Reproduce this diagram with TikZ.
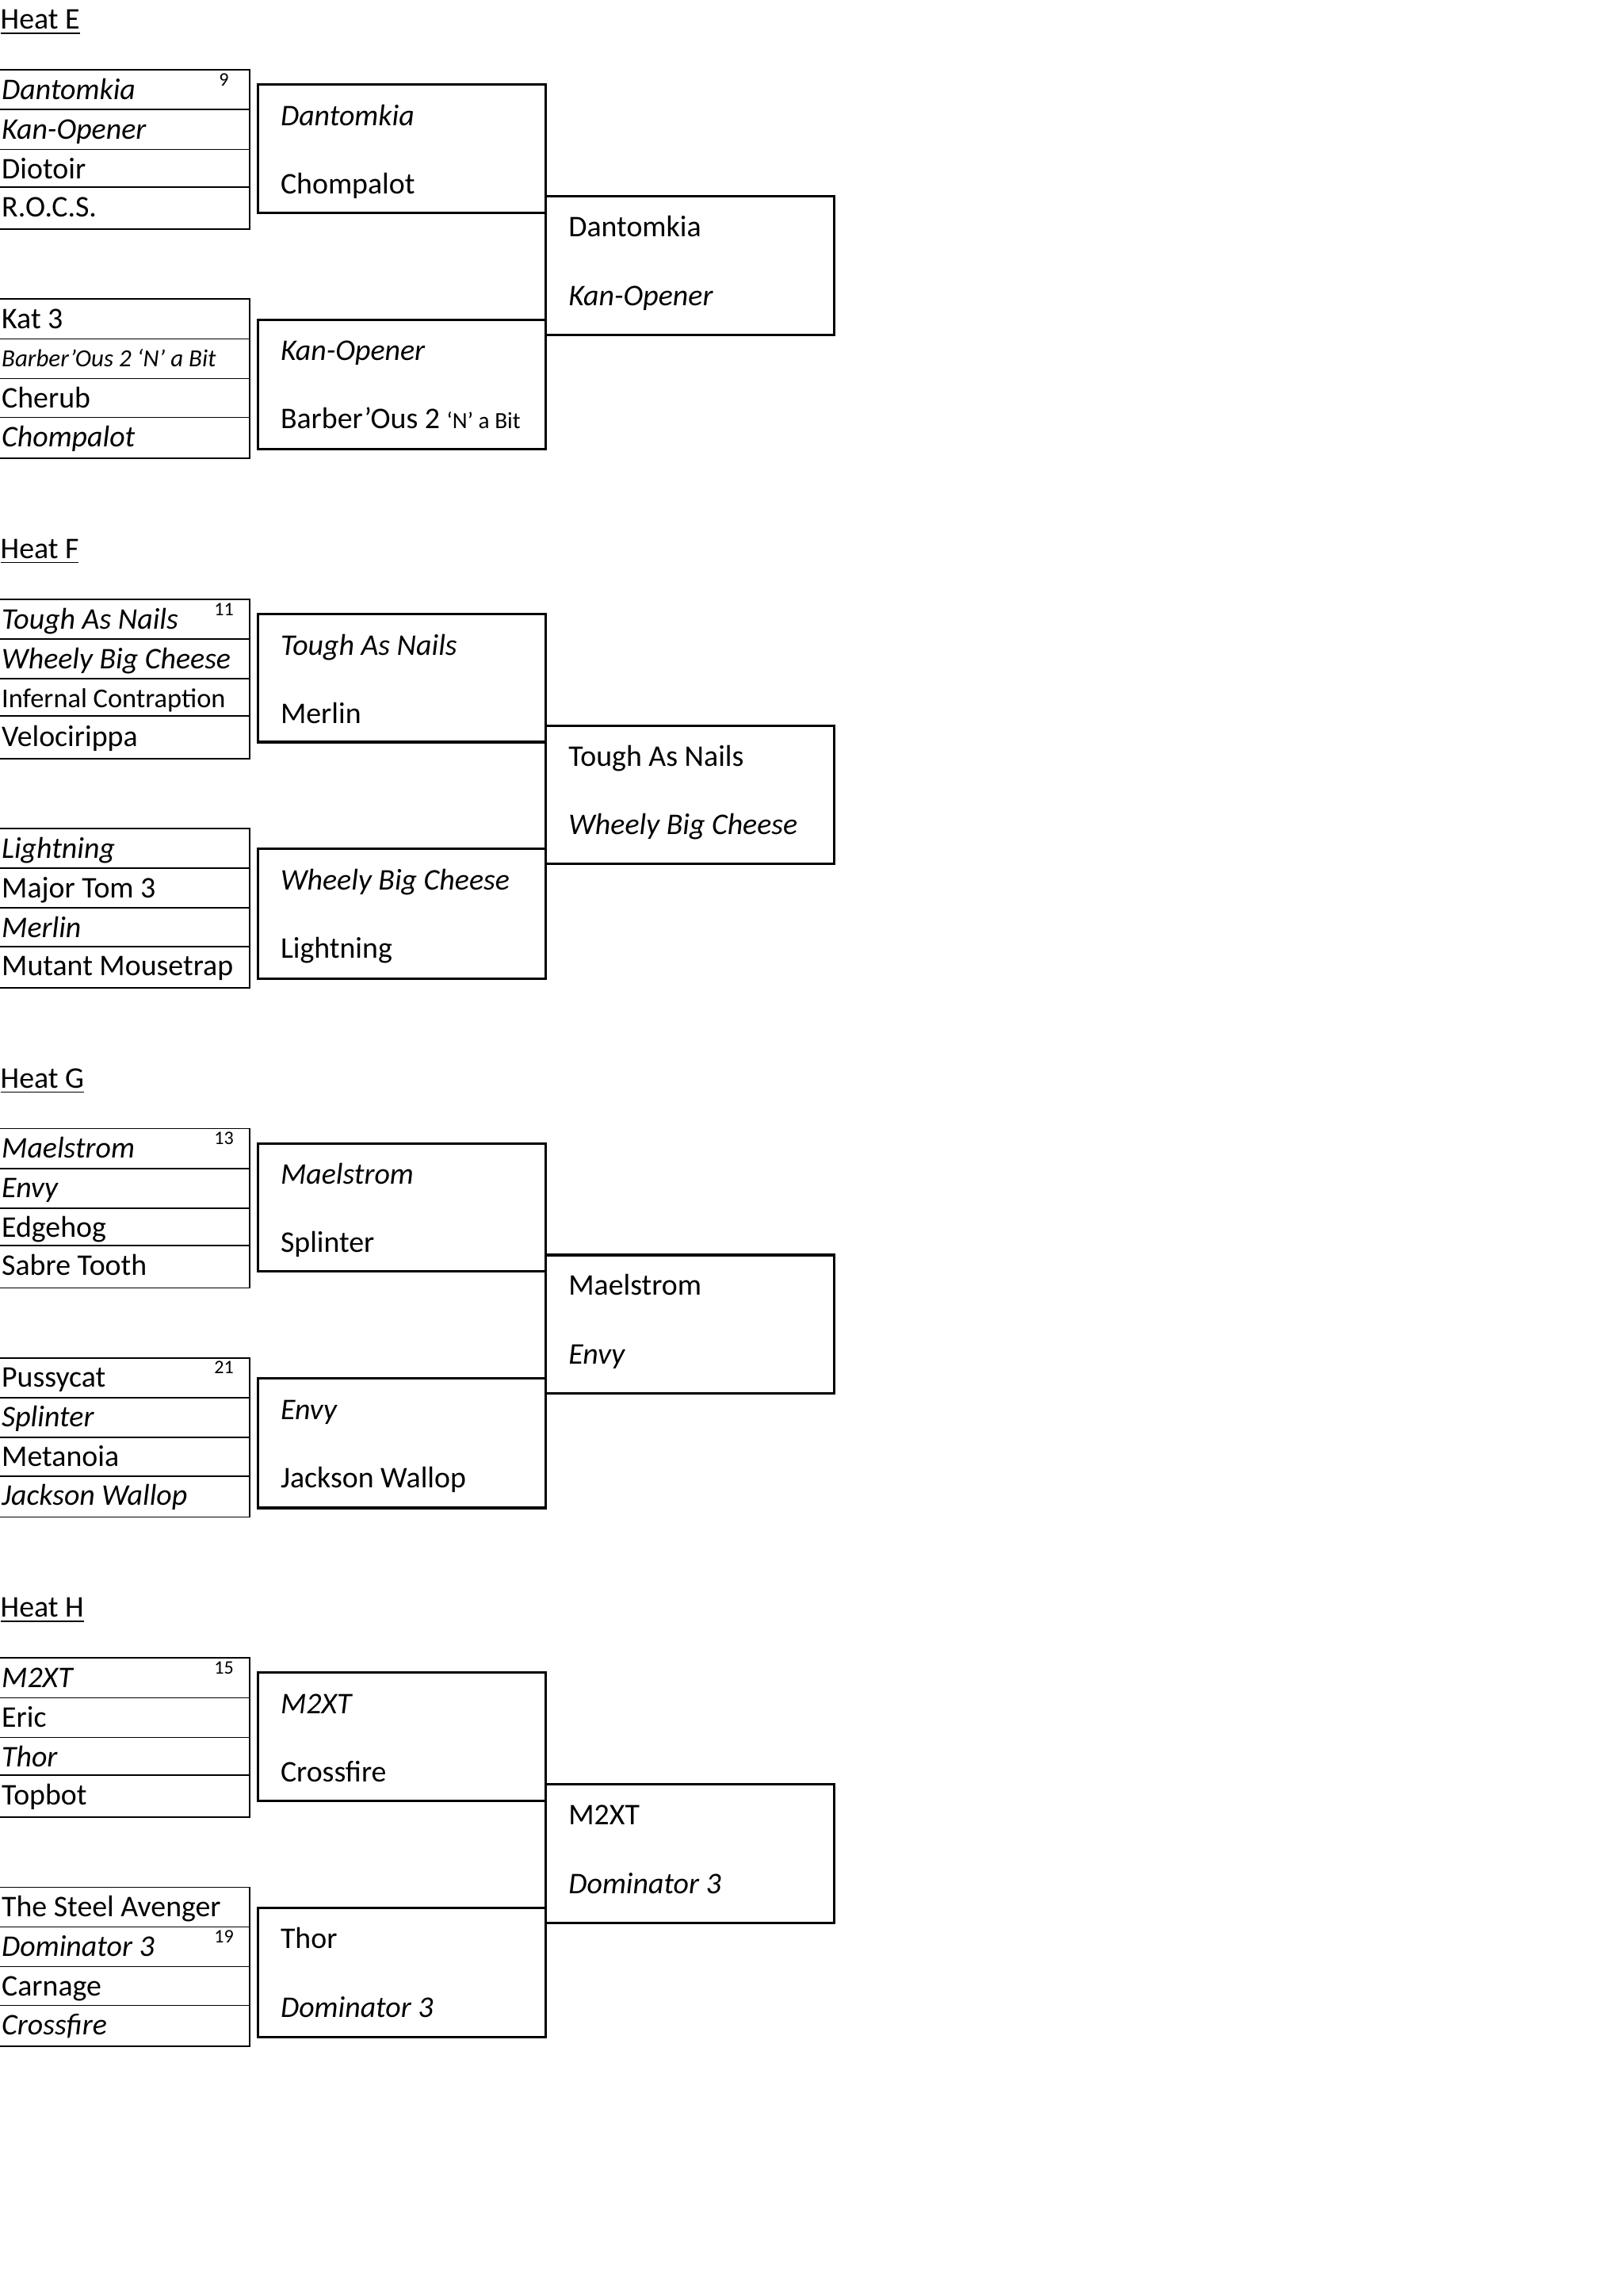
\documentclass[tikz,border=0pt]{standalone}
\usepackage{fontspec}
\setmainfont{Carlito}
\tikzset{
  entry/.style={anchor=base west, inner sep=0pt, font=\fontsize{11}{13}\selectfont},
  ientry/.style={anchor=base west, inner sep=0pt, font=\fontsize{11}{13}\selectfont\itshape},
  seednum/.style={anchor=base, inner sep=0pt, font=\fontsize{7}{8}\selectfont},
  heatlabel/.style={anchor=base west, inner sep=0pt, font=\fontsize{11}{13}\selectfont},
  listline/.style={line width=0.5pt},
  roundbox/.style={line width=0.9pt},
}
\begin{document}
\begin{tikzpicture}[x=0.5368pt,y=-0.5368pt]
\useasboundingbox (0,0) rectangle (1109,1568);
% frames are the same in every heat
\foreach \h in {0,361.5,723,1084.5}{
\begin{scope}[shift={(0,\h)}]
\draw[listline] (0,47.8) -- (170.6,47.8) -- (170.6,156.5) -- (0,156.5); %round 1 top
\draw[listline] (0,74.9) -- (170.6,74.9);
\draw[listline] (0,102) -- (170.6,102);
\draw[listline] (0,127.6) -- (170.6,127.6);
\draw[listline] (0,204.3) -- (170.6,204.3) -- (170.6,313) -- (0,313); %round 1 bottom
\draw[listline] (0,231.5) -- (170.6,231.5);
\draw[listline] (0,258.5) -- (170.6,258.5);
\draw[listline] (0,285) -- (170.6,285);
\draw[roundbox] (176.4,57.8) rectangle (372.7,145.3); %semi top
\draw[roundbox] (176.4,218.3) rectangle (372.7,306.8); %semi bottom
\draw[roundbox] (372.7,134.1) rectangle (569.8,228.6); %final
\end{scope}
}

% Heat E
\node[heatlabel] (heatE) at (0,19.9) {\underline{Heat E}};
\node[ientry] (e11) at (0.8,68) {Dantomkia};
\node[seednum] (e11s) at (153,58.8) {9};
\node[ientry] (e12) at (0.8,95) {Kan-Opener};
\node[entry] (e13) at (0.8,122) {Diotoir};
\node[entry] (e14) at (0.8,148) {R.O.C.S.};
\node[entry] (e21) at (0.8,224.5) {Kat 3};
\node[ientry, font=\fontsize{9}{11}\selectfont\itshape] (e22) at (0.8,250.5) {Barber’Ous 2 ‘N’ a Bit};
\node[entry] (e23) at (0.8,278.5) {Cherub};
\node[ientry] (e24) at (0.8,305) {Chompalot};
\node[ientry] (es1) at (191.3,85.8) {Dantomkia};
\node[entry] (es2) at (191.3,132.4) {Chompalot};
\node[ientry] (es3) at (191.3,246.3) {Kan-Opener};
\node[entry] (es4) at (191.3,292.9) {Barber’Ous 2 {\fontsize{8.5}{10}\selectfont ‘N’ a Bit}};
\node[entry] (ef1) at (388,161.6) {Dantomkia};
\node[ientry] (ef2) at (388,208.6) {Kan-Opener};

% Heat F
\begin{scope}[shift={(0,361.5)}]
\node[heatlabel] (heatF) at (0,19.9) {\underline{Heat F}};
\node[ientry] (f11) at (0.8,68) {Tough As Nails};
\node[seednum] (f11s) at (153,58.8) {11};
\node[ientry] (f12) at (0.8,95) {Wheely Big Cheese};
\node[entry, font=\fontsize{10}{12}\selectfont] (f13) at (0.8,121.5) {Infernal Contraption};
\node[entry] (f14) at (0.8,148) {Velocirippa};
\node[ientry] (f21) at (0.8,224.5) {Lightning};
\node[entry] (f22) at (0.8,251.5) {Major Tom 3};
\node[ientry] (f23) at (0.8,278.5) {Merlin};
\node[entry] (f24) at (0.8,305) {Mutant Mousetrap};
\node[ientry] (fs1) at (191.3,85.8) {Tough As Nails};
\node[entry] (fs2) at (191.3,132.4) {Merlin};
\node[ientry] (fs3) at (191.3,246.3) {Wheely Big Cheese};
\node[entry] (fs4) at (191.3,292.9) {Lightning};
\node[entry] (ff1) at (388,161.6) {Tough As Nails};
\node[ientry] (ff2) at (388,208.6) {Wheely Big Cheese};
\end{scope}

% Heat G
\begin{scope}[shift={(0,723)}]
\node[heatlabel] (heatG) at (0,19.9) {\underline{Heat G}};
\node[ientry] (g11) at (0.8,68) {Maelstrom};
\node[seednum] (g11s) at (153,58.8) {13};
\node[ientry] (g12) at (0.8,95) {Envy};
\node[entry] (g13) at (0.8,122) {Edgehog};
\node[entry] (g14) at (0.8,148) {Sabre Tooth};
\node[entry] (g21) at (0.8,224.5) {Pussycat};
\node[seednum] (g21s) at (153,215.3) {21};
\node[ientry] (g22) at (0.8,251.5) {Splinter};
\node[entry] (g23) at (0.8,278.5) {Metanoia};
\node[ientry] (g24) at (0.8,305) {Jackson Wallop};
\node[ientry] (gs1) at (191.3,85.8) {Maelstrom};
\node[entry] (gs2) at (191.3,132.4) {Splinter};
\node[ientry] (gs3) at (191.3,246.3) {Envy};
\node[entry] (gs4) at (191.3,292.9) {Jackson Wallop};
\node[entry] (gf1) at (388,161.6) {Maelstrom};
\node[ientry] (gf2) at (388,208.6) {Envy};
\end{scope}

% Heat H
\begin{scope}[shift={(0,1084.5)}]
\node[heatlabel] (heatH) at (0,19.9) {\underline{Heat H}};
\node[ientry] (h11) at (0.8,68) {M2XT};
\node[seednum] (h11s) at (153,58.8) {15};
\node[entry] (h12) at (0.8,95) {Eric};
\node[ientry] (h13) at (0.8,122) {Thor};
\node[entry] (h14) at (0.8,148) {Topbot};
\node[entry] (h21) at (0.8,224.5) {The Steel Avenger};
\node[ientry] (h22) at (0.8,251.5) {Dominator 3};
\node[seednum] (h22s) at (153,242.5) {19};
\node[entry] (h23) at (0.8,278.5) {Carnage};
\node[ientry] (h24) at (0.8,305) {Crossfire};
\node[ientry] (hs1) at (191.3,85.8) {M2XT};
\node[entry] (hs2) at (191.3,132.4) {Crossfire};
\node[entry] (hs3) at (191.3,246.3) {Thor};
\node[ientry] (hs4) at (191.3,292.9) {Dominator 3};
\node[entry] (hf1) at (388,161.6) {M2XT};
\node[ientry] (hf2) at (388,208.6) {Dominator 3};
\end{scope}

\end{tikzpicture}
\end{document}
